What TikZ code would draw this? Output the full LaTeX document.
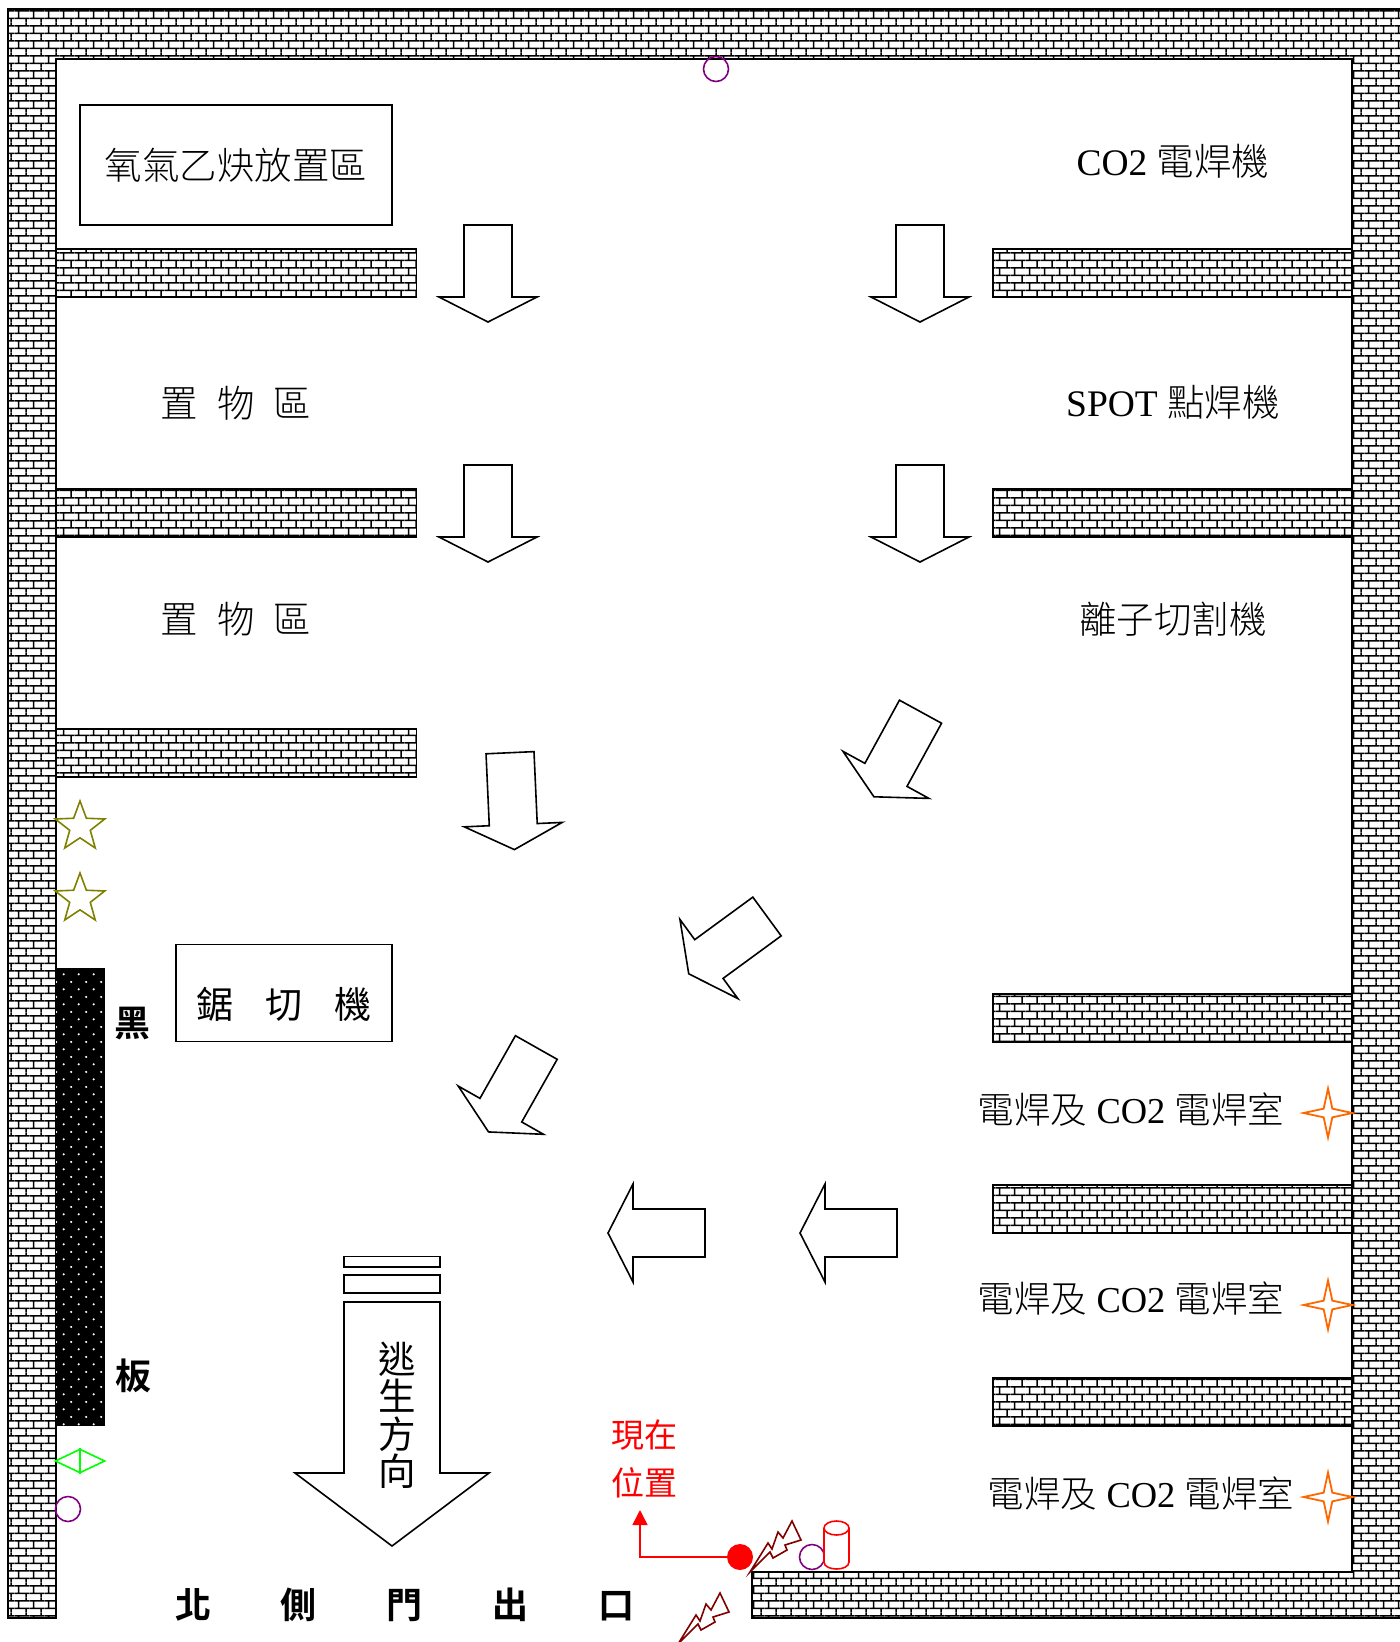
\documentclass[tikz,border=0pt]{standalone}
\usepackage{fontspec}
\setmainfont{Liberation Serif}
\newfontfamily\cjk{Noto Sans CJK TC}[UprightFont=* Light,BoldFont=* Bold]
\newfontfamily\cjkmid{Noto Sans CJK TC}
\usetikzlibrary{patterns,shapes.geometric,arrows.meta}
\pgfdeclarepatternformonly{wallbrick}{\pgfqpoint{0pt}{0pt}}{\pgfqpoint{15.33pt}{15.33pt}}{\pgfqpoint{15.33pt}{15.33pt}}{%
  \pgfsetlinewidth{1.6pt}
  \pgfpathmoveto{\pgfqpoint{0pt}{3.83pt}}\pgfpathlineto{\pgfqpoint{15.33pt}{3.83pt}}
  \pgfpathmoveto{\pgfqpoint{0pt}{11.5pt}}\pgfpathlineto{\pgfqpoint{15.33pt}{11.5pt}}
  \pgfpathmoveto{\pgfqpoint{3.83pt}{3.83pt}}\pgfpathlineto{\pgfqpoint{3.83pt}{11.5pt}}
  \pgfpathmoveto{\pgfqpoint{11.5pt}{11.5pt}}\pgfpathlineto{\pgfqpoint{11.5pt}{15.33pt}}
  \pgfpathmoveto{\pgfqpoint{11.5pt}{0pt}}\pgfpathlineto{\pgfqpoint{11.5pt}{3.83pt}}
  \pgfusepath{stroke}}
\pgfdeclarepatternformonly{boarddots}{\pgfqpoint{0pt}{0pt}}{\pgfqpoint{15.33pt}{15.33pt}}{\pgfqpoint{15.33pt}{15.33pt}}{%
  \pgfpathcircle{\pgfqpoint{3.83pt}{3.83pt}}{1.2pt}
  \pgfpathcircle{\pgfqpoint{11.5pt}{11.5pt}}{1.2pt}
  \pgfusepath{fill}}
\definecolor{starolive}{HTML}{808000}
\definecolor{ringpurple}{HTML}{800080}
\definecolor{sparkorange}{HTML}{FF6600}
\definecolor{boltred}{HTML}{800000}
\tikzset{
  wall/.style={draw=black,line width=1.7pt,pattern=wallbrick},
  room/.style={font=\fontsize{37.5}{37.5}\selectfont},
  weld/.style={font=\fontsize{36.5}{36.5}\selectfont},
  heavy/.style={font=\fontsize{36}{36}\selectfont\cjk\bfseries},
  redlabel/.style={red,font=\fontsize{33}{33}\selectfont\cjkmid},
  frame/.style={draw,line width=1.6pt,inner sep=0pt},
  blockarrow/.style={draw=black,line width=1.6pt,fill=white,miter limit=10},
  ring/.style={circle,draw=ringpurple,line width=1.6pt,minimum size=25pt,inner sep=0pt},
  olivestar/.style={star,star points=5,star point ratio=2.4,draw=starolive,line width=1.6pt,minimum size=52pt,inner sep=0pt},
  sparkstar/.style={star,star points=4,star point ratio=4,draw=sparkorange,line width=1.8pt,minimum size=49pt,inner sep=0pt},
  bolt/.style={draw=boltred,line width=1.6pt,fill=white},
  tank/.style={draw=red,line width=1.6pt,fill=white},
}
\begin{document}
\begin{tikzpicture}[x=1pt,y=-1pt]
  \useasboundingbox (0,0) rectangle (1400,1642);
  \draw[wall] (8,9) -- (1404,9) -- (1404,1618) -- (752,1618) -- (752,1572) -- (1352,1572)
    -- (1352,59) -- (56,59) -- (56,1618) -- (8,1618) -- cycle;
  \foreach \ytop in {248.7,489,729}
    \draw[wall] (56,\ytop) rectangle (416.5,\ytop+48);
  \foreach \ytop in {248.7,489,994,1185,1378}
    \draw[wall] (993,\ytop) rectangle (1352,\ytop+48);

  \node[frame,minimum width=312pt,minimum height=120pt,room] (gasbox) at (236,165) {\cjk 氧氣乙炔放置區};
  \node[frame,minimum width=216pt,minimum height=97pt] (sawbox) at (284,993) {};
  \node[font=\fontsize{37}{37}\selectfont\cjkmid] (sawlabel) at (284,1004) {鋸\hspace{32pt}切\hspace{32pt}機};
  \node[room] (storeA) at (236,403) {\cjk 置\hspace{19pt}物\hspace{19pt}區};
  \node[room] (storeB) at (236,619) {\cjk 置\hspace{19pt}物\hspace{19pt}區};
  \node[room] (coweld) at (1173,161) {CO2 {\cjk 電焊機}};
  \node[room] (spotweld) at (1173,402) {SPOT {\cjk 點焊機}};
  \node[room] (plasma) at (1173,619) {\cjk 離子切割機};
  \node[weld] (weldA) at (1131,1110) {{\cjk 電焊及} CO2 {\cjk 電焊室}};
  \node[weld] (weldB) at (1131,1299) {{\cjk 電焊及} CO2 {\cjk 電焊室}};
  \node[weld] (weldC) at (1141,1494) {{\cjk 電焊及} CO2 {\cjk 電焊室}};

  \foreach \xtail/\ytail/\turn in {488/225/0,920/225/0,488/465/0,920/465/0,510/752.7/2.6,
      920.5/711.7/-28.7,767/916.5/-53.8,536.3/1047.5/-29.5,705/1233/-90,897/1233/-90}
    \draw[blockarrow,shift={(\xtail,\ytail)},rotate=\turn]
      (-24,0) -- (24,0) -- (24,72) -- (49,72) -- (0,97) -- (-49,72) -- (-24,72) -- cycle;

  \draw[blockarrow] (344,1256.5) rectangle (440,1267);
  \draw[blockarrow] (344,1275) rectangle (440,1293);
  \draw[blockarrow] (344,1302) -- (440,1302) -- (440,1473) -- (489,1473) -- (392,1546) -- (295,1473) -- (344,1473) -- cycle;
  \node[align=center,font=\fontsize{37.5}{37.5}\selectfont\cjkmid,inner sep=0pt] (escape) at (397,1415) {逃\\生\\方\\向};

  \fill[black] (56,968) rectangle (105,1426);
  \fill[pattern=boarddots,pattern color=white] (56,968) rectangle (105,1426);
  \node[heavy] (boardA) at (132,1023) {黑};
  \node[heavy] (boardB) at (133,1376) {板};

  \node[olivestar] (starA) at (80,827) {};
  \node[olivestar] (starB) at (80,899) {};
  \node[diamond,draw=green,line width=1.6pt,minimum width=50pt,minimum height=24pt,inner sep=0pt] (kite) at (80,1461) {};
  \draw[green,line width=1.6pt] (kite.north) -- (kite.south);
  \node[ring] (ringA) at (716,69) {};
  \node[ring] (ringB) at (68,1509) {};
  \node[ring] (ringC) at (812,1557) {};
  \foreach \ystar/\sname in {1113/sparkA,1305/sparkB,1497/sparkC}
    \node[sparkstar] (\sname) at (1328,\ystar) {};

  \node[heavy] (northdoor) at (405,1605) {北\hspace{70pt}側\hspace{70pt}門\hspace{70pt}出\hspace{70pt}口};

  \node[redlabel] (nowA) at (644,1435) {現在};
  \node[redlabel] (nowB) at (644,1483) {位置};
  \node[circle,fill=red,minimum size=26pt,inner sep=0pt] (nowdot) at (740,1557) {};
  \coordinate (nowtip) at (640,1510);
  \draw[red,line width=1.6pt,-{Triangle[length=15pt,width=15pt]}] (nowdot) -| (nowtip);

  \foreach \xbolt/\ybolt in {750/1572,678/1644}
    \draw[bolt,shift={(\xbolt,\ybolt)}] (0,0) -- (18,-29) -- (22,-23) -- (28,-40) -- (33,-34)
      -- (42,-51) -- (51,-32) -- (35,-27) -- (37,-22) -- (23,-14) -- (20,-20) -- cycle;

  \draw[tank] (824,1528) -- (824,1562) .. controls (824,1571.3) and (849,1571.3) .. (849,1562) -- (849,1528);
  \draw[tank] (836.5,1528) ellipse [x radius=12.5,y radius=7];
\end{tikzpicture}
\end{document}
